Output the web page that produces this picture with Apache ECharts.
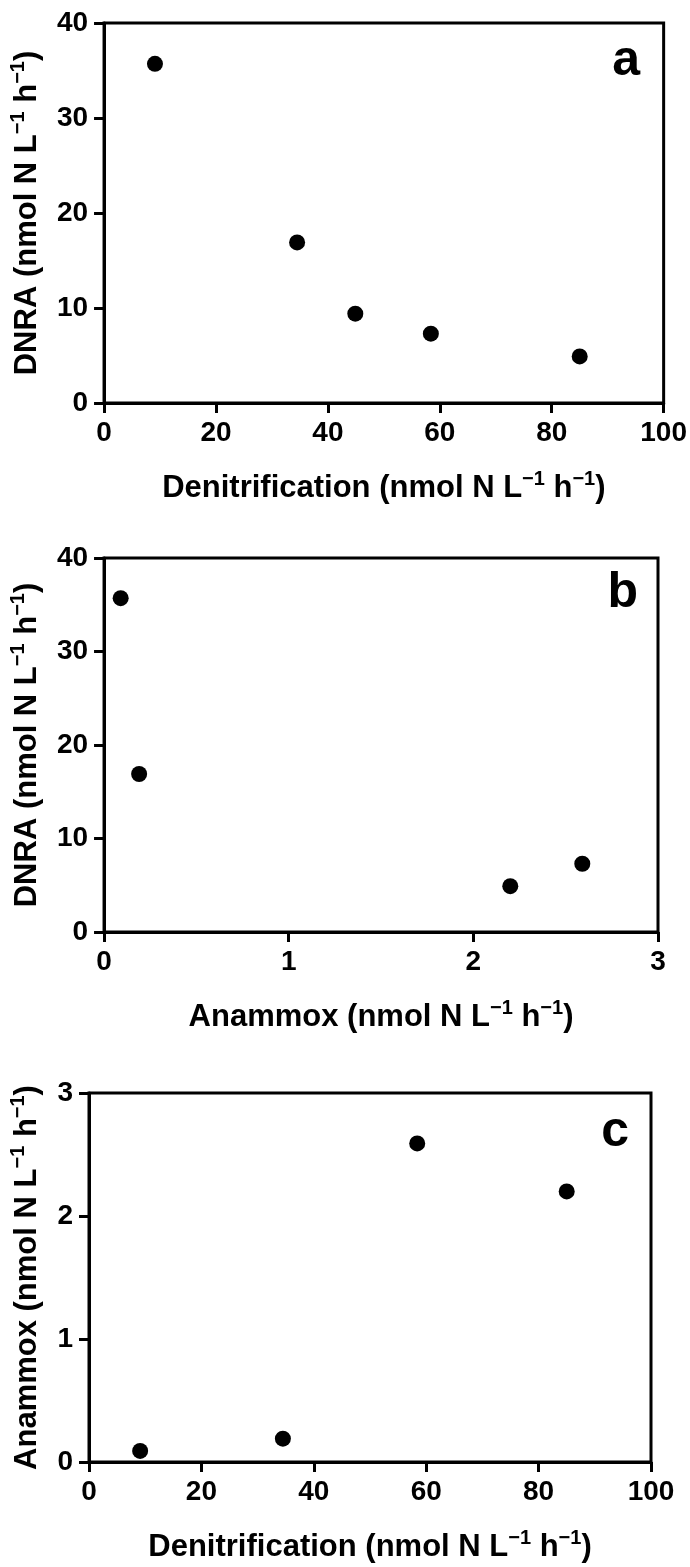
<!DOCTYPE html>
<html>
<head>
<meta charset="utf-8">
<script src="https://cdn.jsdelivr.net/npm/echarts@6/dist/echarts.min.js"></script>
<style>
html,body{margin:0;padding:0;background:#fff;}
#chart{width:690px;height:1567px;}
</style>
</head>
<body>
<div id="chart"></div>
<script>
// Data (one entry per sampling site)
const denitrification = [9.1, 34.5, 44.9, 58.4, 85.0];
const dnra = [35.7, 16.9, 9.4, 7.3, 4.9];
const anammox = [0.09, 0.19, null, 2.59, 2.2];

const denitTicks = [0, 100, 20];
const dnraTicks = [0, 40, 10];
const anammoxTicks = [0, 3, 1];

const panelLetters = ['a', 'b', 'c'];
const titleDenit = 'Denitrification (nmol N L{s|\u22121} h{s|\u22121})';
const titleDnra = 'DNRA (nmol N L{s|\u22121} h{s|\u22121})';
const titleAnammox = 'Anammox (nmol N L{s|\u22121} h{s|\u22121})';

function pairs(xs, ys) {
  const out = [];
  for (let i = 0; i < xs.length; i++) {
    if (xs[i] != null && ys[i] != null) out.push([xs[i], ys[i]]);
  }
  return out;
}

function hasFont(name) {
  const ctx = document.createElement('canvas').getContext('2d');
  const probe = '0123456789mwWabc';
  ctx.font = 'bold 40px monospace';
  const a = ctx.measureText(probe).width;
  ctx.font = 'bold 40px "' + name + '", monospace';
  const b = ctx.measureText(probe).width;
  return Math.abs(a - b) > 0.5;
}

const FONT = '"Liberation Sans", Arial, sans-serif';
const NARROW_OK = hasFont('Liberation Sans Narrow');
const TICK_FONT = NARROW_OK ? '"Liberation Sans Narrow", "Liberation Sans", sans-serif' : FONT;
const TICK_SIZE = NARROW_OK ? 31 : 28;
const black = '#000';

function nameStyle() {
  return {
    fontFamily: FONT, fontSize: 31, fontWeight: 'bold', color: black, lineHeight: 38,
    rich: { s: { fontFamily: FONT, fontSize: 20, fontWeight: 'bold', color: black, verticalAlign: 'top', lineHeight: 20 } }
  };
}

function makeX(idx, ticks, name, gap) {
  return {
    type: 'value', gridIndex: idx, min: ticks[0], max: ticks[1], interval: ticks[2],
    name: name, nameLocation: 'middle', nameGap: gap, nameTextStyle: nameStyle(),
    axisLine: { show: true, lineStyle: { color: black, width: 3 } },
    axisTick: { show: true, inside: false, length: 10, lineStyle: { color: black, width: 3 } },
    axisLabel: { color: black, fontFamily: TICK_FONT, fontSize: TICK_SIZE, fontWeight: 'bold', margin: 16 },
    splitLine: { show: false }
  };
}
function makeY(idx, ticks, name, gap) {
  return {
    type: 'value', gridIndex: idx, min: ticks[0], max: ticks[1], interval: ticks[2],
    name: name, nameLocation: 'middle', nameGap: gap, nameRotate: 90, nameTextStyle: nameStyle(),
    axisLine: { show: true, lineStyle: { color: black, width: 3 } },
    axisTick: { show: true, inside: false, length: 10, lineStyle: { color: black, width: 3 } },
    axisLabel: { color: black, fontFamily: TICK_FONT, fontSize: TICK_SIZE, fontWeight: 'bold', margin: 16 },
    splitLine: { show: false }
  };
}

const gridBase = { show: true, borderColor: black, borderWidth: 3, backgroundColor: 'transparent', containLabel: false };
const dot = { color: black, opacity: 1 };

const option = {
  animation: false,
  backgroundColor: '#fff',
  grid: [
    Object.assign({ left: 103, right: 24, top: 23, height: 380 }, gridBase),
    Object.assign({ left: 97, right: 32, top: 558, height: 374 }, gridBase),
    Object.assign({ left: 89, right: 39, top: 1093, height: 372 }, gridBase)
  ],
  xAxis: [
    makeX(0, denitTicks, titleDenit, 66),
    makeX(1, anammoxTicks, titleAnammox, 66),
    makeX(2, denitTicks, titleDenit, 66)
  ],
  yAxis: [
    makeY(0, dnraTicks, titleDnra, 55),
    makeY(1, dnraTicks, titleDnra, 52),
    makeY(2, anammoxTicks, titleAnammox, 42)
  ],
  series: [
    { type: 'scatter', xAxisIndex: 0, yAxisIndex: 0, data: pairs(denitrification, dnra), symbol: 'circle', symbolSize: 16, itemStyle: dot },
    { type: 'scatter', xAxisIndex: 1, yAxisIndex: 1, data: pairs(anammox, dnra), symbol: 'circle', symbolSize: 16, itemStyle: dot },
    { type: 'scatter', xAxisIndex: 2, yAxisIndex: 2, data: pairs(denitrification, anammox), symbol: 'circle', symbolSize: 16, itemStyle: dot }
  ],
  graphic: [
    { type: 'text', x: 640, y: 86, style: { text: panelLetters[0], fill: black, fontFamily: FONT, fontSize: 50, fontWeight: 'bold', align: 'right', verticalAlign: 'bottom' } },
    { type: 'text', x: 638, y: 618, style: { text: panelLetters[1], fill: black, fontFamily: FONT, fontSize: 50, fontWeight: 'bold', align: 'right', verticalAlign: 'bottom' } },
    { type: 'text', x: 629, y: 1157, style: { text: panelLetters[2], fill: black, fontFamily: FONT, fontSize: 50, fontWeight: 'bold', align: 'right', verticalAlign: 'bottom' } }
  ]
};

const chart = echarts.init(document.getElementById('chart'), null, { renderer: 'canvas' });
chart.setOption(option);
</script>
</body>
</html>
